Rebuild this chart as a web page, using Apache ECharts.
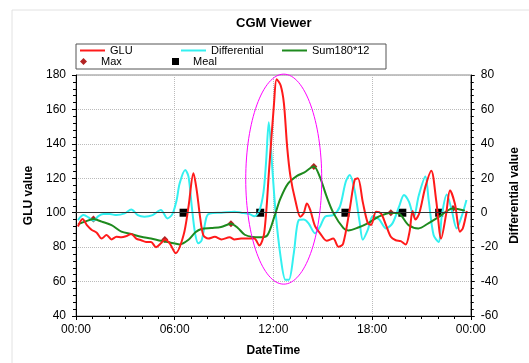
<!DOCTYPE html>
<html>
<head>
<meta charset="utf-8">
<script src="https://cdn.jsdelivr.net/npm/echarts@6/dist/echarts.min.js"></script>
<style>
html, body { margin: 0; padding: 0; background: #fff; }
#main { width: 529px; height: 363px; }
</style>
</head>
<body>
<div id="main"></div>
<script>
// time in hours of the day (0 - 24)
var gluTime = [0.12,0.40,0.66,0.96,1.26,1.56,1.86,2.16,2.46,2.76,3.06,3.36,3.66,3.96,4.26,4.56,4.86,5.16,5.40,5.70,6.06,6.54,6.84,7.14,7.34,7.54,7.74,8.04,8.44,8.84,9.34,9.64,10.04,10.44,10.84,11.14,11.44,11.74,12.04,12.20,12.44,12.64,12.84,13.04,13.34,13.64,13.84,14.04,14.24,14.54,14.84,15.24,15.64,15.96,16.24,16.64,16.94,17.14,17.44,17.74,17.94,18.24,18.54,18.84,19.14,19.44,19.74,20.04,20.28,20.46,20.64,20.88,21.24,21.60,21.90,22.20,22.50,22.74,23.04,23.34,23.52,23.76];
var gluValue = [92,96.3,92.8,90,88.4,85,87,84.5,86,85.7,86.4,87.6,85,84,83,83,80,82.2,84.5,82.2,76.5,87,103.5,122.9,113,97.7,87,85,86,84.5,85.7,84.5,85,85,85,81,88,125,163.5,177.5,174,163.5,138,121,107,97.7,99.6,105.4,101.6,92,88,83.7,85,80.2,82,102,119,120,106,94,93,100.6,99.6,93,86,84,83.5,81.5,89,101,96,100,115,124.4,107,85,99,113,105,89,91,101];

var diffTime = [0.12,0.46,0.76,1.06,1.36,1.66,2.06,2.46,2.96,3.36,3.76,4.16,4.66,5.16,5.56,5.86,6.12,6.30,6.64,6.84,7.04,7.24,7.44,7.64,7.94,8.14,8.84,9.64,10.04,10.54,10.84,11.14,11.40,11.56,11.72,11.94,12.14,12.44,12.74,12.94,13.24,13.54,13.84,14.14,14.54,14.84,15.14,15.64,16.04,16.40,16.64,16.94,17.24,17.44,17.74,18.04,18.44,18.84,19.24,19.64,19.94,20.24,20.54,20.84,21.24,21.44,21.74,22.04,22.25,22.54,22.84,23.14,23.44,23.74];
var diffValue = [-4.3,-1.4,-2.7,-4.7,-2,-0.8,-0.8,-1.4,-0.4,1.9,-1.4,-2.3,-1.4,1.6,-3.3,-0.8,7.4,17,24.8,21,3.5,-12,-17.8,-16,-2.3,-0.4,0,0.6,0,-0.8,-2,1,12,30,52.5,25,-0.4,-25.6,-39,-39,-23.6,-4.3,-4,-6.2,-12,-8,-2.3,-1.4,3.5,18,21.9,13,-5.2,-15.7,-10,-2,-4,-9.1,-6.2,3.5,10.3,6.4,-2.3,10,21,7.4,-13,-17,-1,10.6,1.6,-9.1,-2.3,7.4];

var sumTime = [0.12,0.54,1.08,1.56,2.16,2.76,3.36,3.96,4.56,5.16,5.76,6.30,6.84,7.26,7.62,8.22,8.82,9.42,9.84,10.26,10.74,11.22,11.64,12.06,12.42,12.90,13.44,13.86,14.46,14.82,15.24,15.66,16.26,16.56,17.16,17.76,18.36,19.14,19.62,20.22,20.82,21.42,22.02,22.92,23.64];
var sumValue = [93.2,94.8,96.3,94.8,92.8,89,87.6,86,85,83.7,82.6,81.6,84.3,88.6,90.5,91.1,91.7,93.6,91.1,87.2,85.9,85.7,87,97.7,108,117,121.4,123.3,126.9,121,109.3,99.6,91,89.7,91.4,94,97.5,100,99.6,92.8,90.9,93.8,97.3,102.5,101.2];

var maxTime = [1.06,5.40,9.42,14.46,19.14,22.92];
var maxValue = [96.3,84.5,93.6,126.9,100,102.5];

var mealTime = [6.54,11.2,16.38,19.84,22.08];
var mealValue = [100,100,100,100,100];

// highlighted region (hours, GLU)
var ellipseCenter = [12.63, 119.5];
var ellipseRadius = [2.31, 61];

var xTicks = ['00:00', '06:00', '12:00', '18:00', '00:00'];

function pair(t, v) {
    var out = [];
    for (var i = 0; i < t.length; i++) {
        out.push([t[i], v[i]]);
    }
    return out;
}

var chart = echarts.init(document.getElementById('main'));
var font = 'Liberation Sans, Arial, sans-serif';
var legendText = { fontSize: 11, color: '#000', width: 70, lineHeight: 11, fontFamily: font };

var option = {
    animation: false,
    textStyle: { fontFamily: font },
    title: {
        text: 'CGM Viewer',
        left: 231,
        top: 12,
        textStyle: { fontSize: 13, fontWeight: 'bold', color: '#000', fontFamily: font }
    },
    legend: [
        {
            // line items, the box also covers the second row
            left: 76,
            top: 44,
            width: 320,
            itemGap: 1,
            itemWidth: 25,
            itemHeight: 2,
            padding: [1, 4, 13, 4],
            borderColor: '#555',
            borderWidth: 1,
            textStyle: legendText,
            data: [
                { name: 'GLU', icon: 'rect' },
                { name: 'Differential', icon: 'rect' },
                { name: 'Sum180*12', icon: 'rect' }
            ]
        },
        {
            left: 76,
            top: 56,
            itemGap: 1,
            itemWidth: 25,
            itemHeight: 7,
            padding: [0, 4],
            symbolKeepAspect: true,
            textStyle: legendText,
            data: [
                { name: 'Max', icon: 'path://M0,-1L1,0L0,1L-1,0Z' },
                { name: 'Meal', icon: 'path://M0,0L1,0L1,1L0,1Z' }
            ]
        }
    ],
    grid: {
        left: 76, right: 54, top: 75, bottom: 47,
        show: true, borderColor: '#888', borderWidth: 1
    },
    xAxis: {
        type: 'value',
        min: 0, max: 24, interval: 6,
        name: 'DateTime',
        nameLocation: 'middle',
        nameGap: 29,
        nameTextStyle: { fontSize: 12, fontWeight: 'bold', color: '#000' },
        axisLine: { onZero: false, lineStyle: { color: '#000' } },
        axisTick: { length: 4, lineStyle: { color: '#000' } },
        minorTick: { show: true, splitNumber: 6, length: 3, lineStyle: { color: '#000' } },
        axisLabel: {
            fontSize: 12, color: '#000', margin: 8,
            formatter: function (v) { return xTicks[Math.round(v / 6)]; }
        },
        splitLine: { show: true, lineStyle: { color: '#bbb', type: 'dotted' } }
    },
    yAxis: [
        {
            type: 'value',
            min: 40, max: 180, interval: 20,
            name: 'GLU value',
            nameLocation: 'middle',
            nameGap: 40,
            nameRotate: 90,
            nameTextStyle: { fontSize: 12, fontWeight: 'bold', color: '#000' },
            axisLine: { show: true, onZero: false, lineStyle: { color: '#000' } },
            axisTick: { show: true, length: 4, lineStyle: { color: '#000' } },
            minorTick: { show: true, splitNumber: 5, length: 3, lineStyle: { color: '#000' } },
            axisLabel: { fontSize: 12, color: '#000', margin: 10 },
            splitLine: { show: true, lineStyle: { color: '#bbb', type: 'dotted' } }
        },
        {
            type: 'value',
            position: 'right',
            min: -60, max: 80, interval: 20,
            name: 'Differential value',
            nameLocation: 'middle',
            nameGap: 38,
            nameRotate: 90,
            nameTextStyle: { fontSize: 12, fontWeight: 'bold', color: '#000' },
            axisLine: { show: true, onZero: false, lineStyle: { color: '#000' } },
            axisTick: { show: true, length: 4, lineStyle: { color: '#000' } },
            minorTick: { show: true, splitNumber: 5, length: 3, lineStyle: { color: '#000' } },
            axisLabel: { fontSize: 12, color: '#000', margin: 10 },
            splitLine: { show: false }
        }
    ],
    series: [
        {
            name: 'Differential',
            type: 'line',
            yAxisIndex: 1,
            data: pair(diffTime, diffValue),
            symbol: 'none',
            smooth: 0.3,
            lineStyle: { color: '#33f0f0', width: 2 },
            itemStyle: { color: '#33f0f0' },
            markLine: {
                silent: true,
                symbol: ['none', 'none'],
                label: { show: false },
                lineStyle: { color: '#333', width: 1, type: 'solid' },
                data: [{ yAxis: 0 }]
            }
        },
        {
            name: 'Sum180*12',
            type: 'line',
            data: pair(sumTime, sumValue),
            symbol: 'none',
            smooth: 0.3,
            lineStyle: { color: '#1e8a1e', width: 2 },
            itemStyle: { color: '#1e8a1e' }
        },
        {
            name: 'GLU',
            type: 'line',
            data: pair(gluTime, gluValue),
            symbol: 'none',
            smooth: 0.3,
            lineStyle: { color: '#ff1a1a', width: 2 },
            itemStyle: { color: '#ff1a1a' }
        },
        {
            name: 'Max',
            type: 'scatter',
            data: pair(maxTime, maxValue),
            symbol: 'diamond',
            symbolSize: 7,
            itemStyle: { color: '#b22222', opacity: 1 }
        },
        {
            name: 'Meal',
            type: 'scatter',
            data: pair(mealTime, mealValue),
            symbol: 'rect',
            symbolSize: 8,
            itemStyle: { color: '#000', opacity: 1 }
        }
    ]
};
chart.setOption(option);

// magenta ellipse around the big excursion
var c = chart.convertToPixel({ xAxisIndex: 0, yAxisIndex: 0 }, ellipseCenter);
var e = chart.convertToPixel({ xAxisIndex: 0, yAxisIndex: 0 },
    [ellipseCenter[0] + ellipseRadius[0], ellipseCenter[1] + ellipseRadius[1]]);
chart.setOption({
    graphic: [
        {
            type: 'rect',
            shape: { x: 12, y: 10, width: 700, height: 700 },
            style: { fill: 'none', stroke: '#e2e2e2', lineWidth: 1 },
            silent: true
        },
        {
            type: 'ellipse',
            shape: { cx: c[0], cy: c[1], rx: e[0] - c[0], ry: c[1] - e[1] },
            style: { fill: 'none', stroke: '#ff00ff', lineWidth: 1 },
            z: 10,
            silent: true
        }
    ]
});
</script>
</body>
</html>
